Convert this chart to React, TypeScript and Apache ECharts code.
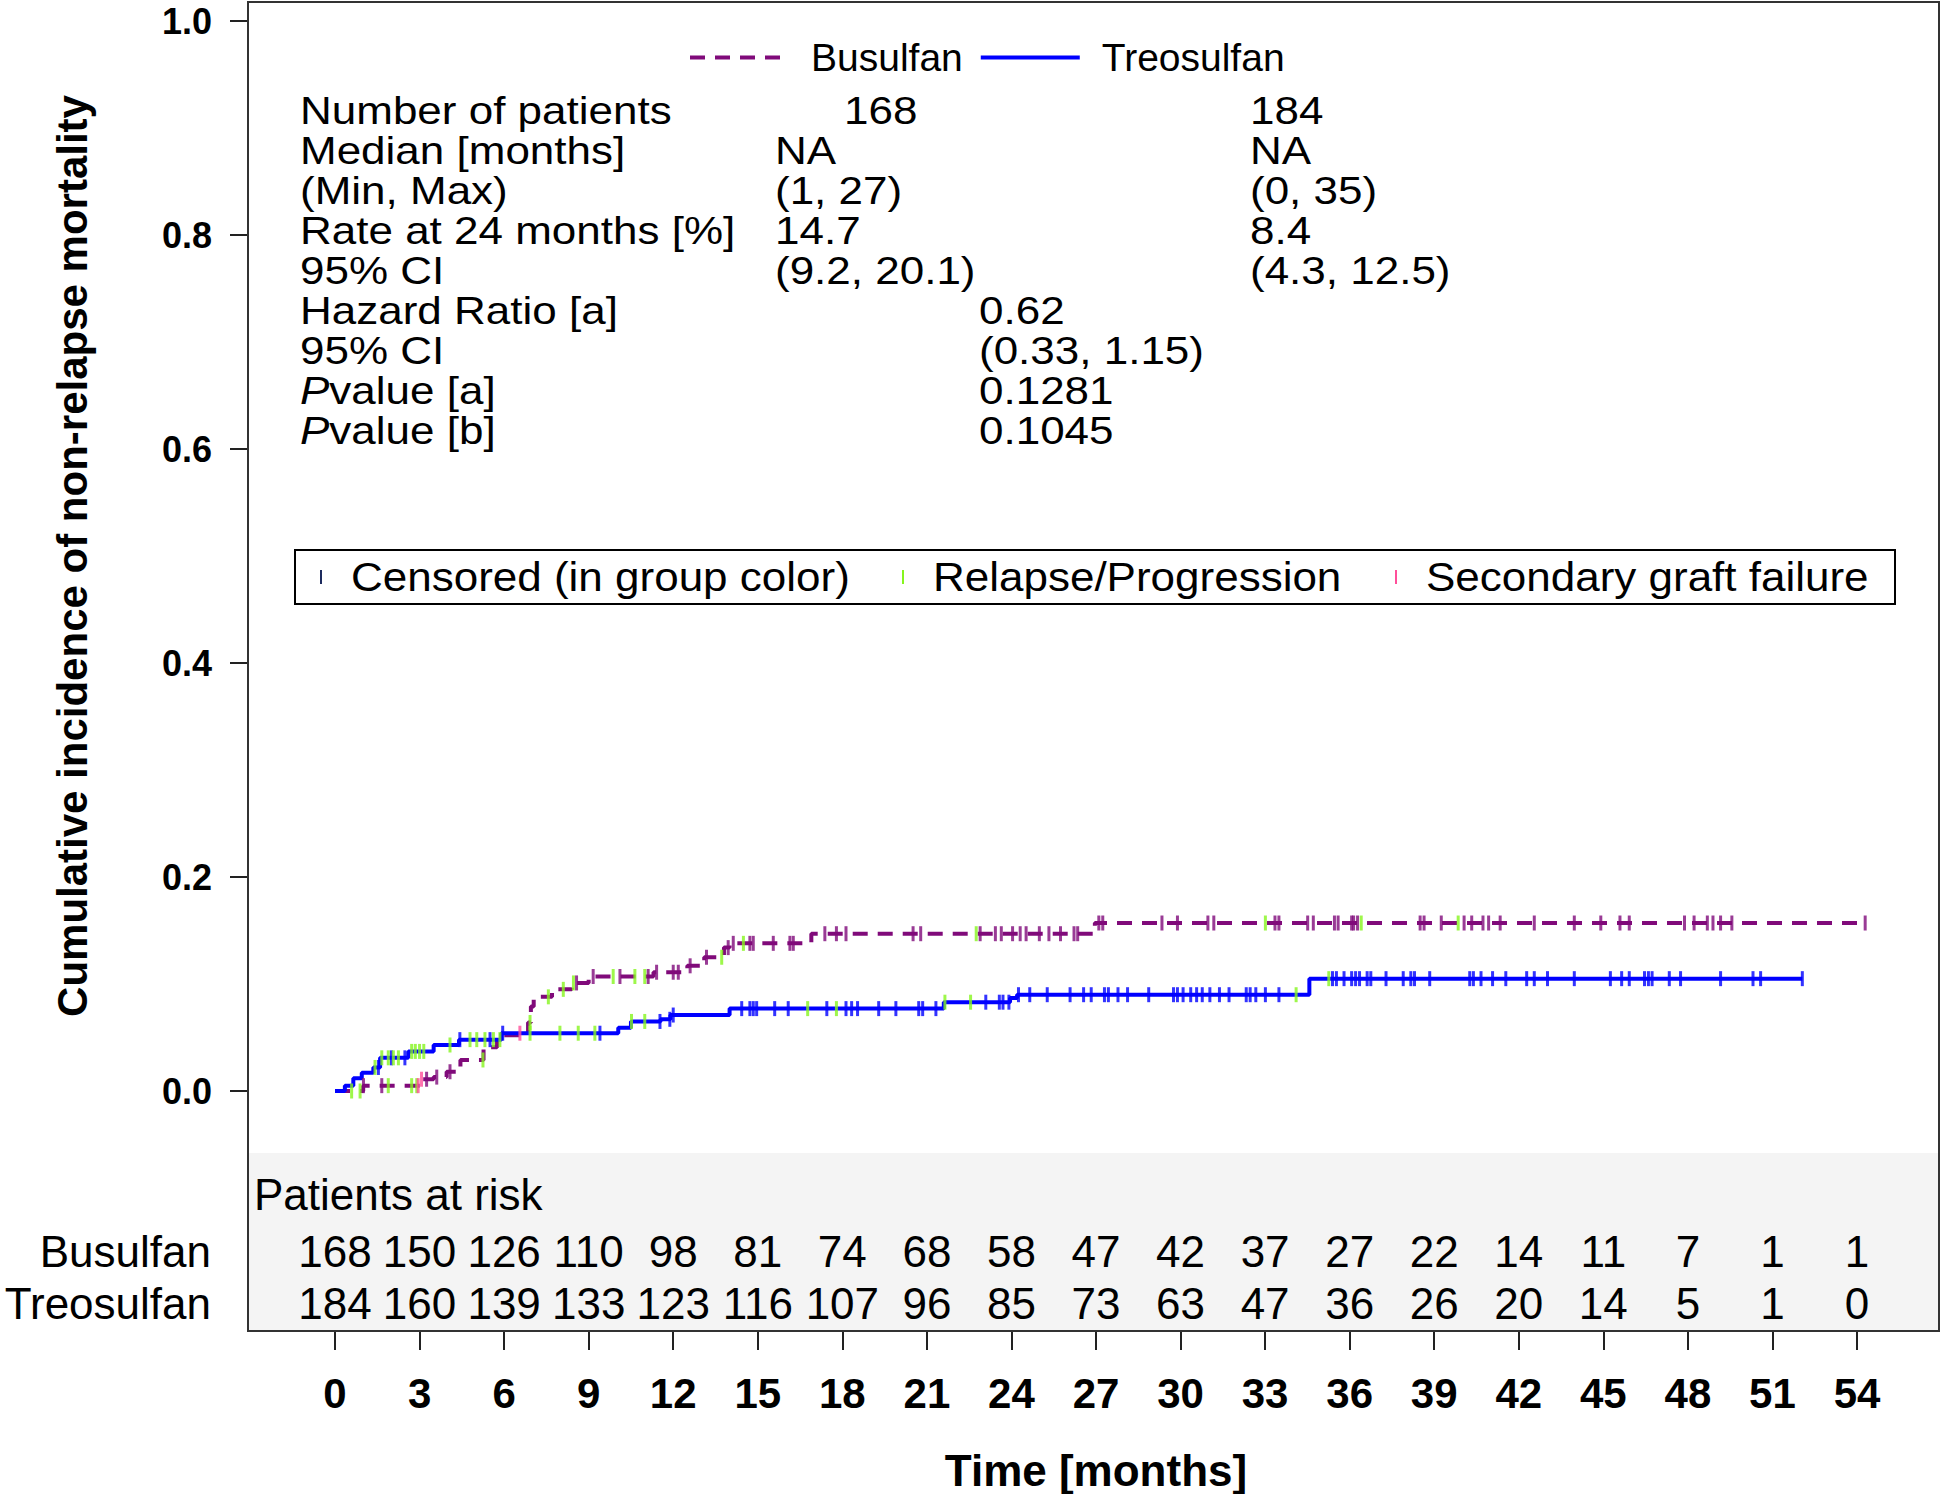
import * as echarts from 'echarts';
import { useEffect, useRef } from 'react';

const FONT = 'Liberation Sans, Arial, Helvetica, sans-serif';
const PURPLE = '#800a7a';
const BLUE = '#0000ff';
const GREEN = '#86f51e';
const PINK = '#ff4f9a';

// cumulative incidence step points [month, value]
const busulfanSteps: [number, number][] = [
    [0, 0], [1.0, 0.005], [3.05, 0.011], [3.5, 0.013], [3.96, 0.018], [4.45, 0.029],
    [5.27, 0.041], [5.75, 0.052], [6.85, 0.064], [6.95, 0.079], [7.05, 0.088], [7.7, 0.095],
    [8.4, 0.101], [9.0, 0.107], [11.3, 0.111], [12.5, 0.117], [13.1, 0.125], [13.8, 0.134],
    [14.0, 0.138], [16.9, 0.147], [26.96, 0.157], [54.3, 0.157],
];
const treosulfanSteps: [number, number][] = [
    [0, 0], [0.35, 0.005], [0.65, 0.012], [0.95, 0.017], [1.36, 0.022], [1.6, 0.031],
    [2.6, 0.037], [3.5, 0.043], [4.4, 0.048], [5.9, 0.054], [10.05, 0.059], [10.5, 0.065],
    [11.55, 0.067], [11.9, 0.071], [14.0, 0.077], [21.6, 0.083], [23.95, 0.087], [24.2, 0.09],
    [34.57, 0.105], [52.06, 0.105],
];

// censoring times (months)
const busulfanCensored = [
    1.01, 1.66, 3.25, 3.61, 4.08, 8.57, 9.16, 10.11, 11.11, 11.41, 12.0, 12.18, 12.6, 13.18,
    13.95, 14.13, 14.72, 14.84, 15.55, 16.14, 16.26, 17.38, 17.79, 18.13, 20.51, 20.78, 22.89,
    23.43, 23.64, 24.04, 24.31, 24.52, 24.99, 25.33, 25.74, 26.22, 26.35, 27.1, 27.24, 29.34,
    29.89, 30.97, 31.18, 33.35, 33.49, 34.51, 34.71, 35.46, 35.59, 36.07, 36.14, 36.28, 38.5,
    38.64, 39.25, 40.06, 40.33, 40.73, 40.93, 41.34, 42.55, 43.97, 44.91, 45.59, 45.92, 47.88,
    48.22, 48.69, 48.89, 49.16, 49.56, 54.29,
];
const treosulfanCensored = [
    1.54, 2.0, 2.48, 4.43, 5.5, 5.95, 9.4, 11.53, 11.88, 12.0, 14.43, 14.72, 14.84, 14.96,
    15.6, 16.08, 17.45, 18.13, 18.33, 18.54, 19.29, 19.9, 20.71, 20.85, 21.32, 23.09, 23.57,
    23.7, 23.91, 24.25, 24.65, 25.27, 26.08, 26.56, 26.83, 27.3, 27.44, 27.78, 28.12, 28.87,
    29.75, 29.89, 30.09, 30.36, 30.57, 30.77, 31.04, 31.38, 31.72, 32.33, 32.47, 32.67, 33.01,
    33.49, 35.39, 35.53, 35.8, 36.07, 36.21, 36.35, 36.62, 36.75, 37.29, 37.9, 38.17, 38.3,
    38.84, 40.26, 40.39, 40.66, 41.07, 41.54, 42.28, 42.55, 43.02, 43.97, 45.25, 45.65, 45.92,
    46.46, 46.6, 46.73, 47.34, 47.74, 49.16, 50.31, 50.58, 52.06,
];

// competing events (months)
const busulfanRelapse = [0.59, 0.89, 1.89, 2.72, 2.9, 5.25, 6.92, 7.57, 8.1, 8.46, 9.87, 10.64, 10.99, 13.72, 14.49, 22.75, 33.01, 36.41, 39.85];
const treosulfanRelapse = [1.42, 1.66, 1.89, 2.07, 2.25, 2.72, 2.85, 3.0, 3.15, 4.08, 4.79, 5.03, 5.32, 5.62, 5.85, 6.92, 7.98, 8.63, 9.22, 10.52, 10.99, 16.77, 17.79, 21.64, 22.55, 34.1, 35.26];
const busulfanGraftFailure = [2.95, 3.07];
const treosulfanGraftFailure = [6.56];

// patients at risk
const riskTimes = [0, 3, 6, 9, 12, 15, 18, 21, 24, 27, 30, 33, 36, 39, 42, 45, 48, 51, 54];
const busulfanAtRisk = [168, 150, 126, 110, 98, 81, 74, 68, 58, 47, 42, 37, 27, 22, 14, 11, 7, 1, 1];
const treosulfanAtRisk = [184, 160, 139, 133, 123, 116, 107, 96, 85, 73, 63, 47, 36, 26, 20, 14, 5, 1, 0];

// summary table
const statLabels = [
    'Number of patients', 'Median [months]', '(Min, Max)', 'Rate at 24 months [%]', '95% CI',
    'Hazard Ratio [a]', '95% CI', '{i|P}value [a]', '{i|P}value [b]',
];
const busulfanStats = ['168', 'NA', '(1, 27)', '14.7', '(9.2, 20.1)'];
const treosulfanStats = ['184', 'NA', '(0, 35)', '8.4', '(4.3, 12.5)'];
const comparisonStats = ['0.62', '(0.33, 1.15)', '0.1281', '0.1045'];

const markerLegend = [
    { label: 'Censored (in group color)', color: '#1d2b5e', x: 321 },
    { label: 'Relapse/Progression', color: GREEN, x: 903 },
    { label: 'Secondary graft failure', color: PINK, x: 1396 },
];

// plot frame spans months -3.087 .. 56.909 (0 and 54 sit inside the box)
const FRAME_MIN = -87 / (1522 / 54);
const FRAME_MAX = 54 + 82 / (1522 / 54);

const levelAt = (steps: [number, number][], t: number) => {
    let v = 0;
    for (const [s, val] of steps) if (s <= t) v = val;
    return v;
};

const marks = (name: string, times: number[], steps: [number, number][], color: string) => ({
    name,
    type: 'scatter',
    xAxisIndex: 0,
    yAxisIndex: 0,
    symbol: 'rect',
    symbolSize: [3, 15],
    clip: false,
    silent: true,
    z: 4,
    itemStyle: { color },
    data: times.map((t) => [t, levelAt(steps, t)]),
});

const txt = (text: string, x: number, size: number, extra: any = {}) => ({
    type: 'text',
    x,
    y: 0,
    style: {
        text,
        fontSize: size,
        fontFamily: FONT,
        fill: '#000',
        verticalAlign: 'middle',
        align: 'left',
        rich: { i: { fontStyle: 'italic', fontSize: size, fontFamily: FONT, fill: '#000' } },
        ...extra,
    },
});

const App = () => {
    const chartRef = useRef<HTMLDivElement>(null);

    useEffect(() => {
        document.body.style.margin = '0';
        if (!chartRef.current) return;
        const chart = echarts.init(chartRef.current, undefined, { renderer: 'svg' });

        const rowY = statLabels.map((_, i) => 110 + i * 40);
        const statRows = statLabels.map((label, i) => {
            const children: any[] = [txt(label, 300, 44)];
            if (i < busulfanStats.length) {
                children.push(txt(busulfanStats[i], i === 0 ? 844 : 775, 44));
                children.push(txt(treosulfanStats[i], 1250, 44));
            } else {
                children.push(txt(comparisonStats[i - busulfanStats.length], 979, 44));
            }
            return { type: 'group', x: 0, y: rowY[i], scaleY: 0.88, children };
        });

        const markerLegendItems: any[] = [
            {
                type: 'rect',
                shape: { x: 295, y: 550, width: 1600, height: 54 },
                style: { fill: '#fff', stroke: '#000', lineWidth: 2 },
            },
            ...markerLegend.map((m) => ({
                type: 'line',
                shape: { x1: m.x, y1: 570, x2: m.x, y2: 584 },
                style: { stroke: m.color, lineWidth: 2 },
            })),
            {
                type: 'group',
                x: 0,
                y: 577,
                scaleY: 0.92,
                children: markerLegend.map((m) => txt(m.label, m.x + 30, 44)),
            },
        ];

        chart.setOption({
            animation: false,
            backgroundColor: '#fff',
            textStyle: { fontFamily: FONT },
            legend: {
                data: ['Busulfan', 'Treosulfan'],
                left: 683,
                top: 33,
                itemWidth: 99,
                itemHeight: 38,
                itemGap: 16,
                selectedMode: false,
                itemStyle: { color: 'rgba(0,0,0,0)', borderWidth: 0 },
                lineStyle: { width: 4 },
                textStyle: { fontSize: 39, color: '#000', fontFamily: FONT, padding: [0, 0, 0, 17] },
            },
            grid: [
                { left: 248, right: 7, top: 21, bottom: 403 },
                { left: 335, right: 89, top: 1225, bottom: 164 },
            ],
            xAxis: [
                { gridIndex: 0, type: 'value', min: FRAME_MIN, max: FRAME_MAX, show: false },
                {
                    gridIndex: 1,
                    type: 'value',
                    min: 0,
                    max: 54,
                    interval: 3,
                    axisLine: { show: false, onZero: false },
                    axisTick: { show: true, length: 20, lineStyle: { color: '#222', width: 2 } },
                    axisLabel: { fontSize: 42, fontWeight: 'bold', color: '#000', margin: 42, fontFamily: FONT },
                    splitLine: { show: false },
                    name: 'Time [months]',
                    nameLocation: 'middle',
                    nameGap: 118,
                    nameTextStyle: { fontSize: 44, fontWeight: 'bold', color: '#000', fontFamily: FONT },
                },
            ],
            yAxis: [
                {
                    gridIndex: 0,
                    type: 'value',
                    min: 0,
                    max: 1,
                    interval: 0.2,
                    axisLine: { show: false, onZero: false },
                    axisTick: { show: true, length: 18, lineStyle: { color: '#222', width: 2 } },
                    axisLabel: {
                        formatter: (v: number) => v.toFixed(1),
                        fontSize: 36,
                        lineHeight: 30,
                        fontWeight: 'bold',
                        color: '#000',
                        margin: 36,
                        fontFamily: FONT,
                    },
                    splitLine: { show: false },
                    name: 'Cumulative incidence of non-relapse mortality',
                    nameLocation: 'middle',
                    nameGap: 155,
                    nameTextStyle: { fontSize: 42, fontWeight: 'bold', color: '#000', fontFamily: FONT },
                },
                {
                    gridIndex: 1,
                    type: 'category',
                    data: ['Treosulfan', 'Busulfan'],
                    axisLine: { show: false, onZero: false },
                    axisTick: { show: false },
                    axisLabel: { interval: 0, fontSize: 44, margin: 124, color: '#000', fontFamily: FONT },
                    splitLine: { show: false },
                },
            ],
            graphic: [
                {
                    type: 'rect',
                    z: 0,
                    shape: { x: 249, y: 1153, width: 1689, height: 177 },
                    style: { fill: '#f4f4f4' },
                },
                {
                    type: 'rect',
                    z: 1,
                    shape: { x: 248, y: 2, width: 1691, height: 1329 },
                    style: { fill: 'none', stroke: '#333', lineWidth: 2 },
                },
                {
                    type: 'text',
                    x: 254,
                    y: 1194,
                    style: { text: 'Patients at risk', fontSize: 44, fontFamily: FONT, fill: '#000', verticalAlign: 'middle' },
                },
                ...statRows,
                ...markerLegendItems,
            ],
            series: [
                {
                    name: 'Busulfan',
                    type: 'line',
                    step: 'end',
                    xAxisIndex: 0,
                    yAxisIndex: 0,
                    symbol: 'none',
                    clip: false,
                    silent: true,
                    lineStyle: { color: PURPLE, width: 4, type: [15, 10] },
                    itemStyle: { color: PURPLE },
                    data: busulfanSteps,
                },
                {
                    name: 'Treosulfan',
                    type: 'line',
                    step: 'end',
                    xAxisIndex: 0,
                    yAxisIndex: 0,
                    symbol: 'none',
                    clip: false,
                    silent: true,
                    lineStyle: { color: BLUE, width: 4 },
                    itemStyle: { color: BLUE },
                    data: treosulfanSteps,
                },
                marks('Busulfan censored', busulfanCensored, busulfanSteps, PURPLE),
                marks('Treosulfan censored', treosulfanCensored, treosulfanSteps, BLUE),
                marks('Busulfan relapse', busulfanRelapse, busulfanSteps, GREEN),
                marks('Treosulfan relapse', treosulfanRelapse, treosulfanSteps, GREEN),
                marks('Busulfan graft failure', busulfanGraftFailure, busulfanSteps, PINK),
                marks('Treosulfan graft failure', treosulfanGraftFailure, treosulfanSteps, PINK),
                {
                    name: 'At risk',
                    type: 'scatter',
                    xAxisIndex: 1,
                    yAxisIndex: 1,
                    symbolSize: 1,
                    silent: true,
                    itemStyle: { color: '#f4f4f4' },
                    label: {
                        show: true,
                        position: 'inside',
                        fontSize: 44,
                        color: '#000',
                        opacity: 1,
                        textBorderWidth: 0,
                        fontFamily: FONT,
                        formatter: (p: any) => String(p.data[2]),
                    },
                    data: [
                        ...riskTimes.map((t, i) => [t, 'Busulfan', busulfanAtRisk[i]]),
                        ...riskTimes.map((t, i) => [t, 'Treosulfan', treosulfanAtRisk[i]]),
                    ],
                },
            ],
        });

        return () => chart.dispose();
    }, []);

    return <div ref={chartRef} style={{ width: 1946, height: 1494 }} />;
};

export default App;
